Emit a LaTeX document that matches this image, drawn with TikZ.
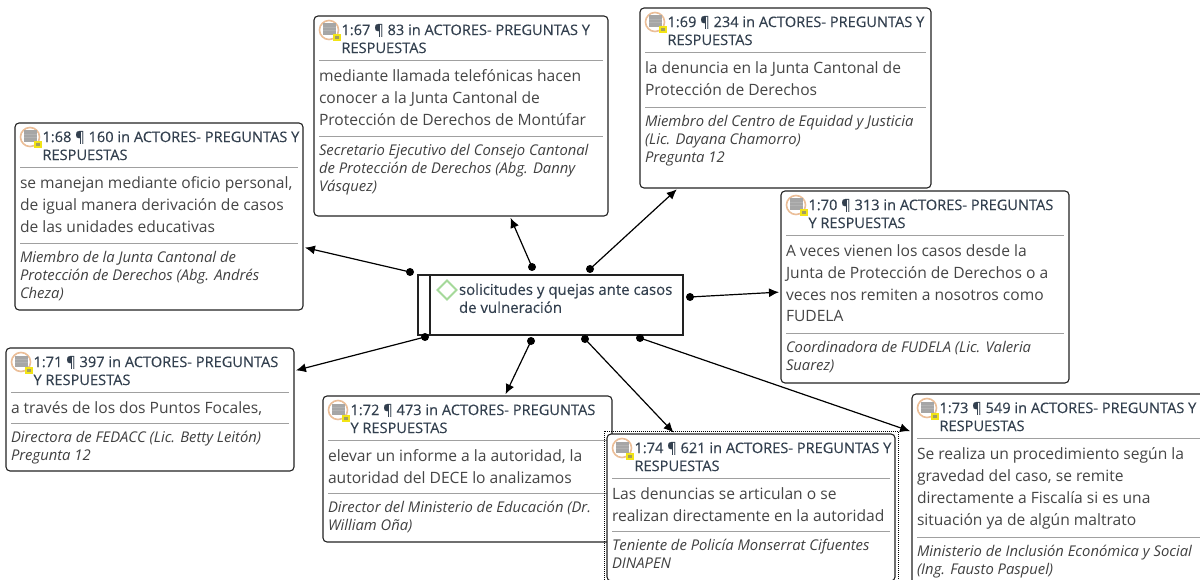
\documentclass[tikz,border=0pt]{standalone}
\usepackage{fontspec}
\setmainfont{Open Sans}
\usetikzlibrary{arrows.meta,calc}
\newfontfamily\ttlfont[FakeBold=0.25]{Open Sans}
\definecolor{ttl}{HTML}{33404F}
\definecolor{bdy}{HTML}{454545}
\definecolor{srcc}{HTML}{404040}
\definecolor{rulec}{HTML}{A0A0A0}
\definecolor{edge}{HTML}{222222}
\definecolor{ringc}{HTML}{EBBE98}
\definecolor{iconc}{HTML}{A6A6A6}
\definecolor{dia}{HTML}{A5D99A}
\definecolor{noteb}{HTML}{F2E415}
\tikzset{x=1pt,y=-1pt,
 card/.style={draw=edge,line width=1.1pt,rounded corners=4pt,fill=white,inner sep=0pt,outer sep=0pt,anchor=north west},
 ttltext/.style={anchor=north west,inner sep=0pt,outer sep=0pt,align=left,text=ttl,font=\ttlfont\fontsize{14.6}{18}\selectfont},
 bdytext/.style={anchor=north west,inner sep=0pt,outer sep=0pt,align=left,text=bdy,font=\fontsize{15.6}{21.7}\selectfont},
 srctext/.style={anchor=north west,inner sep=0pt,outer sep=0pt,align=left,text=srcc,font=\itshape\fontsize{14.8}{18}\selectfont},
 sep/.style={draw=rulec,line width=0.8pt},
 dot/.style={circle,fill=black,inner sep=0pt,minimum size=8pt,outer sep=0pt},
 conn/.style={draw=black,line width=1.2pt,-{Latex[length=10pt,width=9pt]},shorten >=2pt},
}
% name, x1,y1,x2,y2, title, body, ruleB, source
\newcommand{\card}[9]{%
 \node[card,minimum width=#4-#2,minimum height=#5-#3] (c#1) at (#2,#3) {};
 \begin{scope}[shift={(#2,#3)}]
  \draw[draw=ringc,line width=1.6pt,fill=white] (15,14) circle (9.5);
  \fill[iconc] (9,7.5) rectangle (22,19);
  \foreach \q in {11,14.5} \draw[gray!60!white,line width=.4pt] (9,\q) -- (22,\q);
  \fill[noteb] (18.5,18.5) rectangle (26.5,25.5);
  \fill[gray!70!noteb] (20.5,20.5) rectangle (24.5,23.5);
  \node[ttltext] (t#1) at (27.5,8) {#6};
  \draw[sep] (5,44) -- ({#4-#2-5},44);
  \node[bdytext] (b#1) at (5,54) {#7};
  \draw[sep] (5,#8) -- ({#4-#2-5},#8);
  \node[srctext] (s#1) at (5,{#8+8.5}) {#9};
 \end{scope}}
\begin{document}
\begin{tikzpicture}
\useasboundingbox[clip] (0,0) rectangle (1200,580);
\fill[white] (0,0) rectangle (1200,580);
\card{67}{314}{16}{608}{216}{1:67 ¶ 83 in ACTORES- PREGUNTAS Y\\RESPUESTAS}{mediante llamada telefónicas hacen\\conocer a la Junta Cantonal de\\Protección de Derechos de Montúfar}{120}{Secretario Ejecutivo del Consejo Cantonal\\de Protección de Derechos (Abg. Danny\\Vásquez)}
\card{69}{640}{8}{931}{188}{1:69 ¶ 234 in ACTORES- PREGUNTAS Y\\RESPUESTAS}{la denuncia en la Junta Cantonal de\\Protección de Derechos}{99}{Miembro del Centro de Equidad y Justicia\\(Lic. Dayana Chamorro)\\Pregunta 12}
\card{68}{15}{123}{303}{310}{1:68 ¶ 160 in ACTORES- PREGUNTAS Y\\RESPUESTAS}{se manejan mediante oficio personal,\\de igual manera derivación de casos\\de las unidades educativas}{120}{Miembro de la Junta Cantonal de\\Protección de Derechos (Abg. Andrés\\Cheza)}
\card{70}{781}{191}{1069}{383}{1:70 ¶ 313 in ACTORES- PREGUNTAS\\Y RESPUESTAS}{A veces vienen los casos desde la\\Junta de Protección de Derechos o a\\veces nos remiten a nosotros como\\FUDELA}{142}{Coordinadora de FUDELA (Lic. Valeria\\Suarez)}
\card{71}{6}{348}{294}{471}{1:71 ¶ 397 in ACTORES- PREGUNTAS\\Y RESPUESTAS}{a través de los dos Puntos Focales,}{75}{Directora de FEDACC (Lic. Betty Leitón)\\Pregunta 12}
\card{72}{323}{396}{612}{542}{1:72 ¶ 473 in ACTORES- PREGUNTAS\\Y RESPUESTAS}{elevar un informe a la autoridad, la\\autoridad del DECE lo analizamos}{97}{Director del Ministerio de Educación (Dr.\\William Oña)}
\draw[black,densely dotted,line width=1pt] (604,431) rectangle (898,590);
\card{74}{607}{434}{895}{581}{1:74 ¶ 621 in ACTORES- PREGUNTAS Y\\RESPUESTAS}{Las denuncias se articulan o se\\realizan directamente en la autoridad}{97}{Teniente de Policía Monserrat Cifuentes\\DINAPEN}
\card{73}{912}{394}{1210}{590}{1:73 ¶ 549 in ACTORES- PREGUNTAS Y\\RESPUESTAS}{Se realiza un procedimiento según la\\gravedad del caso, se remite\\directamente a Fiscalía si es una\\situación ya de algún maltrato}{143}{Ministerio de Inclusión Económica y Social\\(Ing. Fausto Paspuel)}
% central
\node[draw=edge,line width=1.1pt,fill=white,minimum width=265pt,minimum height=60pt,anchor=north west,inner sep=0pt,outer sep=0pt] (main) at (418,275) {};
\draw[edge,line width=1.1pt] (430,275) -- (430,335);
\draw[draw=dia,line width=1.8pt] (447,280.5) -- (456.5,290) -- (447,299.5) -- (437.5,290) -- cycle;
\node[ttltext,font=\ttlfont\fontsize{15}{18}\selectfont] (mt) at (459,283.5) {solicitudes y quejas ante casos\\de vulneración};
% dots
\node[dot] (d68) at (410,272) {};
\node[dot] (d67) at (532,267) {};
\node[dot] (d69) at (590,269) {};
\node[dot] (d70) at (690,297) {};
\node[dot] (d71) at (425,337) {};
\node[dot] (d72) at (531,341) {};
\node[dot] (d74) at (585,339) {};
\node[dot] (d73) at (640,338) {};
\draw[conn] (d68.center) -- (c68.-12);
\draw[conn] (d67.center) -- (c67.-64.4);
\draw[conn] (d69.center) -- (c69.220.5);
\draw[conn] (d70.center) -- (c70.182.4);
\draw[conn] (d71.center) -- (c71.15);
\draw[conn] (d72.center) -- (c72.63.4);
\draw[conn] (d74.center) -- (c74.136.2);
\draw[conn] (d73.center) -- (c73.158.7);
\end{tikzpicture}
\end{document}
